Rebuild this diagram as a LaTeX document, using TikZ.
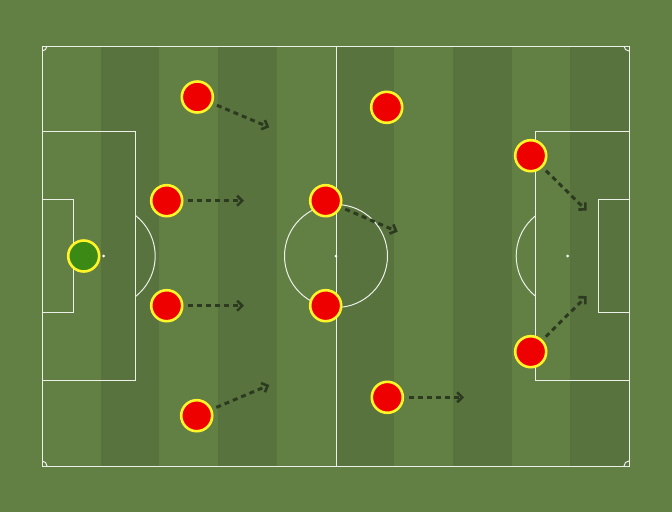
\documentclass[tikz,border=0pt]{standalone}
\usetikzlibrary{arrows.meta,shadows}
\definecolor{grass}{RGB}{99,128,68}
\definecolor{grassdark}{RGB}{88,115,62}
\definecolor{pline}{RGB}{236,240,232}
\definecolor{pred}{RGB}{238,0,0}
\definecolor{pyellow}{RGB}{255,245,40}
\definecolor{pgreen}{RGB}{60,138,22}
\definecolor{runcol}{RGB}{44,58,32}
\tikzset{
  pitchline/.style={draw=pline, line width=1pt},
  player/.style={circle, fill=pred, draw=pyellow, line width=2.6pt, minimum size=31pt, inner sep=0pt,
     circular drop shadow={opacity=0.25, shadow xshift=0.6pt, shadow yshift=1pt, shadow scale=1.02}},
  keeper/.style={player, fill=pgreen},
  run/.style={draw=runcol, line width=3pt, dash pattern=on 5pt off 4pt, shorten <=4.5pt,
     -{Straight Barb[length=5pt,width=10pt,line width=2.6pt]}},
  spot/.style={circle, fill=white, inner sep=0pt, minimum size=3pt}
}
\begin{document}
\begin{tikzpicture}[x=1pt,y=-1pt]
\useasboundingbox (0,0) rectangle (672,512);
\fill[grass] (0,0) rectangle (672,512);
% stripes
\foreach \i in {1,3,5,7,9}{
  \fill[grassdark] ({42+\i*58.7},46) rectangle ({42+(\i+1)*58.7},466);
}
% pitch markings
\draw[pitchline] (42,46) rectangle (629,466);
\draw[pitchline] (336,46) -- (336,466);
\draw[pitchline] (336,256) circle[radius=51.5pt];
\draw[pitchline] (42,131) rectangle (135.7,380);
\draw[pitchline] (42,199) rectangle (73,312);
\draw[pitchline] (535.7,131) rectangle (629,380);
\draw[pitchline] (598.3,199) rectangle (629,312);
\begin{scope}
  \clip (135.7,0) rectangle (300,512);
  \draw[pitchline] (103.7,256) circle[radius=51.5pt];
\end{scope}
\begin{scope}
  \clip (400,0) rectangle (535.7,512);
  \draw[pitchline] (567.7,256) circle[radius=51.5pt];
\end{scope}
\begin{scope}
  \clip (42,46) rectangle (629,466);
  \foreach \cx/\cy in {42/46,629/46,42/466,629/466}{
    \draw[pitchline] (\cx,\cy) circle[radius=5pt];
  }
\end{scope}
\node[spot] (cspot) at (336,256) {};
\node[spot] (lspot) at (103.7,256) {};
\node[spot] (rspot) at (567.7,256) {};
% run targets
\coordinate (t1) at (269.3,127.3);
\coordinate (t2) at (244,200.7);
\coordinate (t3) at (244,305.7);
\coordinate (t4) at (269.3,385);
\coordinate (t5) at (397.7,231.7);
\coordinate (t6) at (464,397.3);
\coordinate (t7) at (586.7,210.7);
\coordinate (t8) at (586.7,296);
% players
\node[keeper] (gk) at (83.7,256) {};
\node[player] (p1) at (197.3,97) {};
\node[player] (p2) at (166.7,200.7) {};
\node[player] (p3) at (166.7,305.7) {};
\node[player] (p4) at (196.7,415.7) {};
\node[player] (p5) at (325.7,200.7) {};
\node[player] (p6) at (325.7,305.7) {};
\node[player] (p7) at (386.7,107.3) {};
\node[player] (p8) at (387.3,397.3) {};
\node[player] (p9) at (530.7,155.7) {};
\node[player] (p10) at (530.7,351.7) {};
% runs
\draw[run] (p1) -- (t1);
\draw[run] (p2) -- (t2);
\draw[run] (p3) -- (t3);
\draw[run] (p4) -- (t4);
\draw[run] (p5) -- (t5);
\draw[run] (p8) -- (t6);
\draw[run] (p9) -- (t7);
\draw[run] (p10) -- (t8);
\end{tikzpicture}
\end{document}
